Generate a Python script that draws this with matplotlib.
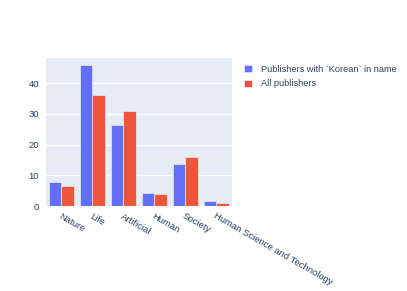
import numpy as np
import matplotlib.pyplot as plt

plt.rcParams['font.family'] = ['Liberation Sans', 'DejaVu Sans']

categories = ["Nature", "Life", "Artificial", "Human", "Society", "Human Science and Technology"]
korean = [7.9, 45.8, 26.3, 4.1, 13.6, 1.6]
all_pub = [6.5, 36.0, 30.8, 3.8, 16.1, 1.0]
series_names = ["Publishers with `Korean` in name", "All publishers"]

fig = plt.figure(figsize=(4.07, 2.91), dpi=100)
ax = fig.add_axes([0.113, 0.292, 0.457, 0.509])
ax.set_facecolor('#E5ECF6')

x = np.arange(len(categories))
w = 0.4
ax.bar(x - w/2, korean, w, color='#636EFA', edgecolor='#E5ECF6', linewidth=0.5,
       label=series_names[0], zorder=3)
ax.bar(x + w/2, all_pub, w, color='#EF553B', edgecolor='#E5ECF6', linewidth=0.5,
       label=series_names[1], zorder=3)

ax.set_xlim(-0.5, len(categories) - 0.5)
ax.set_ylim(0, 48.2)
ax.set_yticks([0, 10, 20, 30, 40])
ax.grid(axis='y', color='white', linewidth=1, zorder=0)
for s in ax.spines.values():
    s.set_visible(False)
ax.tick_params(length=0, colors='#2a3f5f', labelsize=6.8)
ax.tick_params(axis='y', pad=5)
ax.set_xticks(x)
ax.set_xticklabels(categories, rotation=-30, ha='left', va='top',
                   rotation_mode='anchor')
ax.tick_params(axis='x', pad=4)

leg = fig.legend(loc='upper left', bbox_to_anchor=(0.58, 0.805), frameon=False,
                 fontsize=6.6, handlelength=0.8, handleheight=0.8,
                 handletextpad=1.0, labelspacing=0.6)
for t in leg.get_texts():
    t.set_color('#2a3f5f')

fig.savefig('out.png', dpi=100)
